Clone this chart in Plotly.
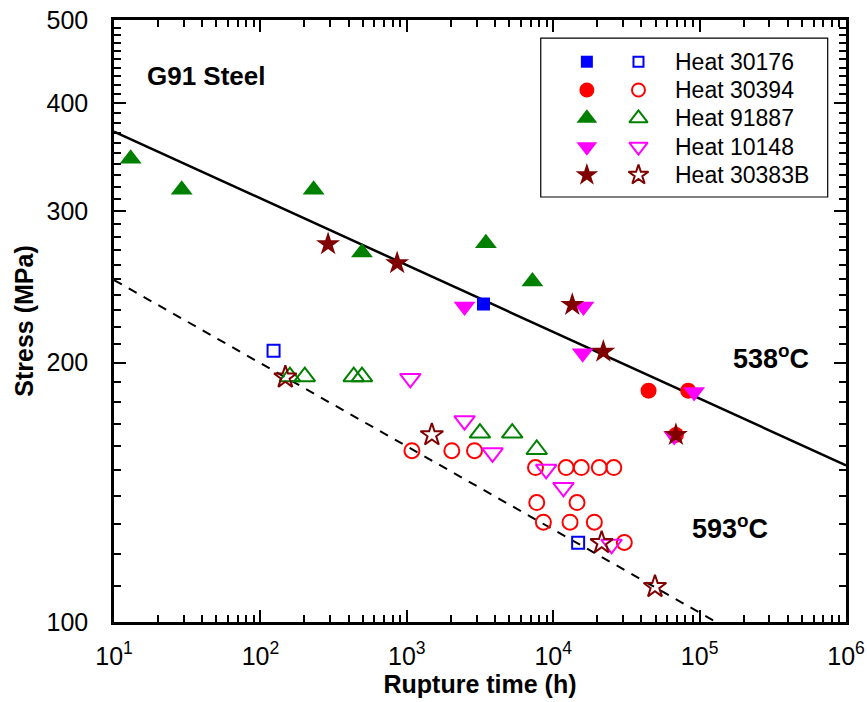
import plotly.graph_objects as go

# ---------------- data ----------------
# 538 C (filled markers)
t_30176_538 = [3340]
s_30176_538 = [234]
t_30394_538 = [44800, 83600, 68900]
s_30394_538 = [185.6, 185.6, 164.9]
t_91887_538 = [13.0, 29.0, 231, 494, 3470, 7210]
s_91887_538 = [345, 317.5, 317.5, 268.5, 275.3, 248.5]
t_10148_538 = [2480, 16100, 15900, 91800, 67100]
s_10148_538 = [232.4, 232.4, 205.2, 185, 164.4]
t_30383B_538 = [290, 859, 13500, 22000, 68900]
s_30383B_538 = [274.6, 261, 233.5, 206, 164.9]

# 593 C (open markers)
t_30176_593 = [123, 14800]
s_30176_593 = [206.5, 123.6]
t_30394_593 = [1084, 2030, 2900, 7570, 12250, 15560, 20650, 25940,
               7720, 14550, 8570, 13030, 19100, 30600]
s_30394_593 = [158.1, 158.1, 158.1, 151.1, 151.1, 151.1, 151.1, 151.1,
               137.6, 137.6, 130.6, 130.6, 130.6, 123.7]
t_91887_593 = [159, 201, 434, 494, 3160, 5250, 7720]
s_91887_593 = [192.7, 192.7, 192.7, 192.7, 165.7, 165.7, 158.6]
t_10148_593 = [1057, 2480, 3850, 8950, 11750, 25060]
s_10148_593 = [191.8, 171.3, 157.2, 150.4, 143.3, 123.1]
t_30383B_593 = [148, 1483, 21430, 49560]
s_30383B_593 = [192.4, 164.9, 123.6, 109.9]

# fitted trend lines
fit_538_t = [10, 1e6]
fit_538_s = [371, 152]
fit_593_t = [10, 2e5]
fit_593_s = [249.5, 95.9]

heats = ["Heat 30176", "Heat 30394", "Heat 91887", "Heat 10148", "Heat 30383B"]

x_tickvals = [10, 100, 1000, 10000, 100000, 1000000]
x_ticktext = ["10<sup>1</sup>", "10<sup>2</sup>", "10<sup>3</sup>",
              "10<sup>4</sup>", "10<sup>5</sup>", "10<sup>6</sup>"]
y_tickvals = [100, 200, 300, 400, 500]
y_ticktext = ["100", "200", "300", "400", "500"]

# ---------------- styles ----------------
colors = ["#0000FF", "#FF0000", "#008000", "#FF00FF", "#800000"]
sym_f = ["square", "circle", "triangle-up", "triangle-down", "star"]
sym_o = ["square-open", "circle-open", "triangle-up-open", "triangle-down-open", "star-open"]
sizes = [13, 16, 19, 19, 18]

filled = [(t_30176_538, s_30176_538), (t_30394_538, s_30394_538),
          (t_91887_538, s_91887_538), (t_10148_538, s_10148_538),
          (t_30383B_538, s_30383B_538)]
opened = [(t_30176_593, s_30176_593), (t_30394_593, s_30394_593),
          (t_91887_593, s_91887_593), (t_10148_593, s_10148_593),
          (t_30383B_593, s_30383B_593)]

FONT = "Liberation Sans, Arial, sans-serif"

fig = go.Figure()

fig.add_trace(go.Scatter(x=fit_538_t, y=fit_538_s, mode="lines",
                         line=dict(color="black", width=2.5), showlegend=False))
fig.add_trace(go.Scatter(x=fit_593_t, y=fit_593_s, mode="lines",
                         line=dict(color="black", width=2, dash="9px,8px"), showlegend=False))

for i in range(5):
    t, s = opened[i]
    fig.add_trace(go.Scatter(x=t, y=s, mode="markers", showlegend=False,
                             marker=dict(symbol=sym_o[i], size=sizes[i] - 1,
                                         color=colors[i], line=dict(color=colors[i], width=2))))
for i in range(5):
    t, s = filled[i]
    fig.add_trace(go.Scatter(x=t, y=s, mode="markers", showlegend=False,
                             marker=dict(symbol=sym_f[i], size=sizes[i],
                                         color=colors[i], line=dict(width=0))))

# ---------------- custom legend (overlay axes in paper units) ----------------
leg_x0, leg_x1, leg_y0, leg_y1 = 0.583, 0.975, 0.706, 0.970
row_y = [0.9307, 0.8837, 0.8367, 0.7895, 0.7425]
col_f, col_o, col_txt = 0.646, 0.7165, 0.7637
for i in range(5):
    fig.add_trace(go.Scatter(x=[col_f], y=[row_y[i]], mode="markers", xaxis="x2", yaxis="y2",
                             showlegend=False,
                             marker=dict(symbol=sym_f[i], size=sizes[i] - 1, color=colors[i],
                                         line=dict(width=0))))
    fig.add_trace(go.Scatter(x=[col_o], y=[row_y[i]], mode="markers", xaxis="x2", yaxis="y2",
                             showlegend=False,
                             marker=dict(symbol=sym_o[i], size=sizes[i] - 3, color=colors[i],
                                         line=dict(color=colors[i], width=2))))
    fig.add_annotation(x=col_txt, y=row_y[i], xref="paper", yref="paper", text=heats[i],
                       showarrow=False, xanchor="left", yanchor="middle",
                       font=dict(family=FONT, size=23, color="black"))

fig.add_shape(type="rect", xref="paper", yref="paper", x0=leg_x0, x1=leg_x1, y0=leg_y0, y1=leg_y1,
              line=dict(color="black", width=1.2), fillcolor="white", layer="below")

# ---------------- text annotations ----------------
fig.add_annotation(x=0.127, y=0.907, xref="paper", yref="paper", text="<b>G91 Steel</b>",
                   showarrow=False, xanchor="center", yanchor="middle",
                   font=dict(family=FONT, size=26, color="black"))
fig.add_annotation(x=0.898, y=0.440, xref="paper", yref="paper", text="<b>538<sup>o</sup>C</b>",
                   showarrow=False, xanchor="center", yanchor="middle",
                   font=dict(family=FONT, size=27, color="black"))
fig.add_annotation(x=0.8415, y=0.158, xref="paper", yref="paper", text="<b>593<sup>o</sup>C</b>",
                   showarrow=False, xanchor="center", yanchor="middle",
                   font=dict(family=FONT, size=27, color="black"))

x_minor = [m * 10 ** d for d in range(1, 6) for m in range(2, 10)]
y_minor = [v for v in range(110, 500, 10) if v not in y_tickvals]

fig.update_layout(
    width=867, height=702,
    margin=dict(l=114, r=21, t=20, b=80, autoexpand=False),
    paper_bgcolor="white", plot_bgcolor="white",
    font=dict(family=FONT, size=25, color="black"),
    showlegend=False,
    xaxis=dict(type="log", range=[1, 6], tickvals=x_tickvals, ticktext=x_ticktext,
               ticks="inside", ticklen=12, tickwidth=2, tickcolor="black",
               showline=True, linecolor="black", linewidth=2.5, mirror="allticks",
               showgrid=False, zeroline=False, automargin=False,
               tickfont=dict(family=FONT, size=25), ticklabelstandoff=10,
               minor=dict(tickvals=x_minor, ticks="inside", ticklen=7, tickwidth=2,
                          tickcolor="black", showgrid=False),
               title=dict(text="<b>Rupture time (h)</b>", font=dict(family=FONT, size=25),
                          standoff=0)),
    yaxis=dict(type="log", range=[2, 2.69897], tickvals=y_tickvals, ticktext=y_ticktext,
               ticks="inside", ticklen=12, tickwidth=2, tickcolor="black",
               showline=True, linecolor="black", linewidth=2.5, mirror="allticks",
               showgrid=False, zeroline=False, automargin=False,
               tickfont=dict(family=FONT, size=25), ticklabelstandoff=18,
               minor=dict(tickvals=y_minor, ticks="inside", ticklen=7, tickwidth=2,
                          tickcolor="black", showgrid=False),
               title=dict(text="<b>Stress (MPa)</b>", font=dict(family=FONT, size=25),
                          standoff=6)),
    xaxis2=dict(range=[0, 1], overlaying="x", visible=False, domain=[0, 1]),
    yaxis2=dict(range=[0, 1], overlaying="y", visible=False, domain=[0, 1]),
)

fig.write_html("out.html")
